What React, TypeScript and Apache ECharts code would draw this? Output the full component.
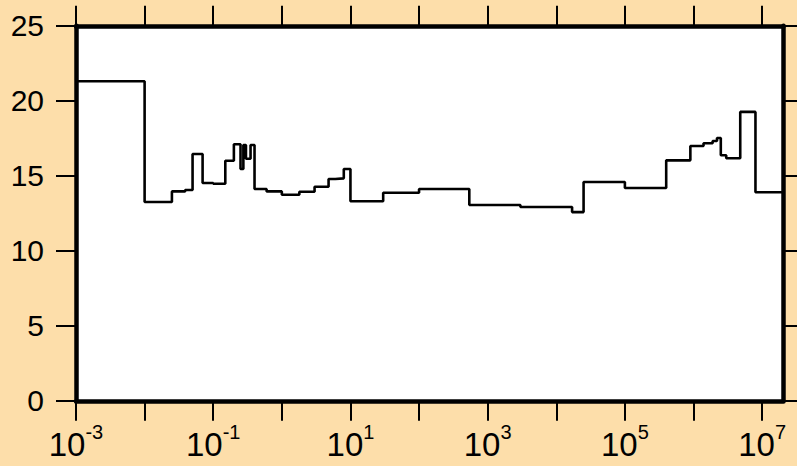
import React, { useEffect, useRef } from "react";
import * as echarts from "echarts";

// Bin edges (lower edge of each step) and step values
const binEdges: number[] = [
  0.001, 0.01, 0.025, 0.039, 0.05, 0.07, 0.1, 0.15, 0.2, 0.25,
  0.275, 0.3, 0.35, 0.4, 0.6, 1, 1.8, 3, 4.8, 6,
  8, 10, 30, 100, 540, 3000, 17000, 25000, 1e5, 4e5,
  9e5, 1.4e6, 1.9e6, 2.2e6, 2.5e6, 3e6, 4.8e6, 8e6,
];
const stepValues: number[] = [
  21.3, 13.25, 13.96, 14.05, 16.45, 14.52, 14.47, 16.0, 17.1, 15.45,
  17.05, 16.14, 17.05, 14.12, 13.96, 13.74, 13.94, 14.27, 14.79, 14.83,
  15.45, 13.3, 13.87, 14.12, 13.05, 12.92, 12.58, 14.59, 14.19, 16.03,
  16.99, 17.17, 17.32, 17.52, 16.37, 16.17, 19.26, 13.9,
];
const xMin = 1e-3;
const xMax = 2.05e7;
const xTickValues: number[] = [1e-3, 1e-2, 1e-1, 1, 1e1, 1e2, 1e3, 1e4, 1e5, 1e6, 1e7];
const xLabelValues: number[] = [1e-3, 1e-1, 1e1, 1e3, 1e5, 1e7];
const yTicks: number[] = [0, 5, 10, 15, 20, 25];

export default function App() {
  const ref = useRef<HTMLDivElement>(null);
  useEffect(() => {
    if (!ref.current) return;
    const chart = echarts.init(ref.current, undefined, { renderer: "svg" });
    const data: [number, number][] = binEdges.map((x, i) => [x, stepValues[i]]);
    data.push([xMax, stepValues[stepValues.length - 1]]);
    const font = "'Liberation Sans', Arial, Helvetica, sans-serif";
    const lineW = 4.5;
    const tickStyle = { show: true, inside: false, length: 20, lineStyle: { color: "#000", width: 2 } };
    const baseX = {
      type: "log" as const,
      logBase: 10,
      min: xMin,
      max: xMax,
      splitLine: { show: false },
      axisLine: { show: true, onZero: false, lineStyle: { color: "#000", width: lineW } },
      axisTick: { ...tickStyle, customValues: xTickValues },
    };
    const baseY = {
      type: "value" as const,
      min: 0,
      max: 25,
      interval: 5,
      splitLine: { show: false },
      axisLine: { show: true, onZero: false, lineStyle: { color: "#000", width: lineW } },
      axisTick: { ...tickStyle, customValues: yTicks },
    };
    chart.setOption({
      animation: false,
      backgroundColor: "#FDDEAA",
      grid: {
        left: 76,
        right: 13.5,
        top: 25.8,
        bottom: 65.2,
        containLabel: false,
        show: true,
        backgroundColor: "#ffffff",
        borderWidth: 0,
      },
      xAxis: [
        {
          ...baseX,
          position: "bottom",
          axisLabel: {
            show: true,
            customValues: xLabelValues,
            margin: 21,
            color: "#000",
            fontFamily: font,
            formatter: (v: number) => `{b|10}{s|${Math.round(Math.log10(v))}}`,
            rich: {
              b: { fontSize: 33, fontFamily: font, color: "#000", lineHeight: 46 },
              s: { fontSize: 20, fontFamily: font, color: "#000", lineHeight: 20, verticalAlign: "top" },
            },
          },
        },
        {
          ...baseX,
          position: "top",
          axisLabel: { show: false },
        },
      ],
      yAxis: [
        {
          ...baseY,
          position: "left",
          axisLabel: {
            show: true,
            margin: 32,
            color: "#000",
            fontSize: 30,
            fontFamily: font,
          },
        },
        {
          ...baseY,
          position: "right",
          axisLabel: { show: false },
        },
      ],
      series: [
        {
          type: "line",
          step: "end",
          data,
          showSymbol: false,
          symbol: "none",
          lineStyle: { color: "#000", width: 2.6 },
          xAxisIndex: 0,
          yAxisIndex: 0,
          z: 1,
        },
      ],
    });
    return () => chart.dispose();
  }, []);
  return (
    <div
      ref={ref}
      style={{ position: "fixed", left: 0, top: 0, width: 797, height: 466 }}
    />
  );
}
